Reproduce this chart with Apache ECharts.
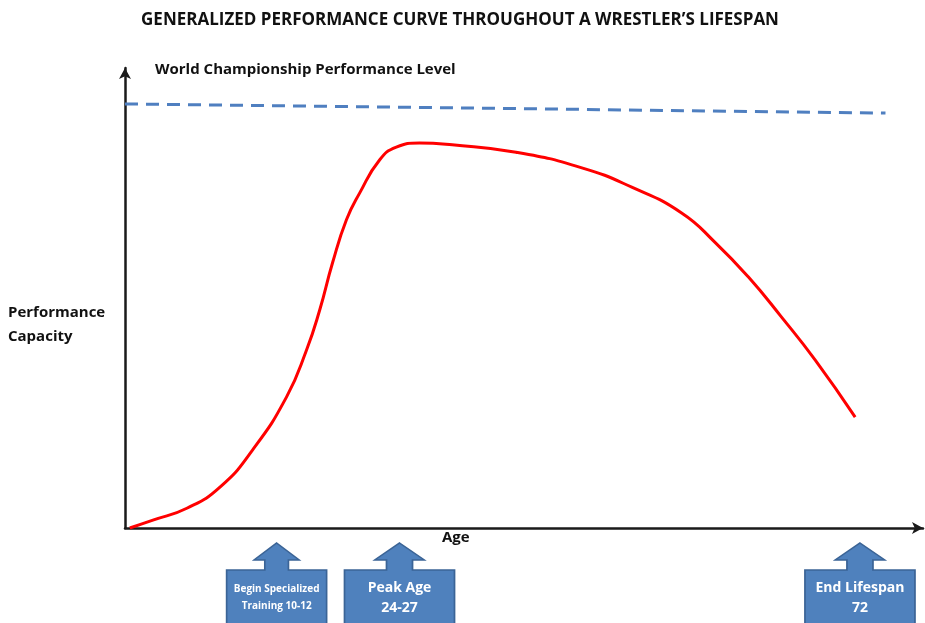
<!DOCTYPE html>
<html>
<head>
<meta charset="utf-8">
<title>Wrestler performance curve</title>
<script src="https://cdn.jsdelivr.net/npm/echarts@6/dist/echarts.min.js"></script>
<style>
  html, body { margin: 0; padding: 0; background: #fff; }
  #chart { width: 925px; height: 623px; }
</style>
</head>
<body>
<div id="chart"></div>
<script>
// x = position along the lifespan (0..100 of the age axis), y = performance capacity (0..100)
const ageSteps = [0.6, 3.5, 7.75, 11.9, 16, 20.25, 22.75, 24.4, 26, 27.75, 29.4, 31.9, 34, 36.9, 41, 49, 57.25, 63.5, 69.75, 74, 78.1, 82.25, 86.5, 91.5];
const performance = [0, 1.7, 4.3, 8.9, 17, 28.5, 38.7, 47.4, 57.6, 67, 72.8, 80, 82.8, 83.7, 83.3, 81.7, 78.3, 74.1, 68.5, 62, 54.6, 45.9, 36.5, 24.1];

// world championship level (dashed reference line)
const worldLevelX = [0, 95.3];
const worldLevelY = [92.2, 90.2];

// callouts under the age axis
const calloutX = [19, 34.4, 92.1];
const calloutText = ["Begin Specialized\nTraining 10-12", "Peak Age\n24-27", "End Lifespan\n72"];

const font = "'Open Sans', sans-serif";
const arrowBox = "path://M55,0 L80,17 L68,17 L68,27 L110,27 L110,82 L0,82 L0,27 L42,27 L42,17 L30,17 Z";

const chart = echarts.init(document.getElementById("chart"));

chart.setOption({
  backgroundColor: "#fff",
  animation: false,
  title: {
    text: "GENERALIZED PERFORMANCE CURVE THROUGHOUT A WRESTLER\u2019S LIFESPAN",
    left: 455,
    textAlign: "center",
    top: 7,
    textStyle: { fontFamily: font, fontSize: 17, fontWeight: "bold", color: "#111" }
  },
  grid: { left: 125, right: 2, top: 68, bottom: 95 },
  xAxis: {
    type: "value",
    min: 0,
    max: 100,
    axisLine: { lineStyle: { color: "#1a1a1a", width: 2.5 }, symbol: ["none", "arrow"], symbolSize: [9, 11] },
    axisTick: { show: false },
    axisLabel: { show: false },
    splitLine: { show: false }
  },
  yAxis: {
    type: "value",
    min: 0,
    max: 100,
    axisLine: { show: true, lineStyle: { color: "#1a1a1a", width: 2.5 }, symbol: ["none", "arrow"], symbolSize: [9, 11] },
    axisTick: { show: false },
    axisLabel: { show: false },
    splitLine: { show: false }
  },
  graphic: [
    {
      type: "text", left: 155, top: 62,
      style: { text: "World Championship Performance Level", fontFamily: font, fontSize: 15, fontWeight: "bold", fill: "#111" }
    },
    {
      type: "text", left: 8, top: 301,
      style: { text: "Performance\nCapacity", fontFamily: font, fontSize: 15, fontWeight: "bold", lineHeight: 24, fill: "#111" }
    },
    {
      type: "text", left: 442, top: 530,
      style: { text: "Age", fontFamily: font, fontSize: 15, fontWeight: "bold", fill: "#111" }
    }
  ],
  series: [
    {
      name: "World Championship Level",
      type: "line",
      showSymbol: false,
      lineStyle: { color: "#4f7fc0", width: 3, type: [13, 8] },
      data: worldLevelX.map((x, i) => [x, worldLevelY[i]])
    },
    {
      name: "Performance Capacity",
      type: "line",
      smooth: 0.5,
      showSymbol: false,
      lineStyle: { color: "#ff0000", width: 3 },
      data: ageSteps.map((x, i) => [x, performance[i]]),
      markPoint: {
        symbol: arrowBox,
        symbolSize: [110, 82],
        symbolOffset: [0, 56],
        itemStyle: { color: "#4f81bd", borderColor: "#3b6496", borderWidth: 1.5 },
        label: {
          show: true,
          position: "inside",
          offset: [0, 14],
          color: "#fff",
          fontFamily: font,
          fontWeight: "bold",
          fontSize: 14,
          lineHeight: 20
        },
        data: calloutX.map((x, i) => ({
          coord: [x, 0],
          value: calloutText[i],
          symbolSize: i === 0 ? [100, 82] : [110, 82],
          label: i === 0
            ? { formatter: calloutText[i], fontSize: 10, lineHeight: 17 }
            : { formatter: calloutText[i] }
        }))
      }
    }
  ]
});
</script>
</body>
</html>
